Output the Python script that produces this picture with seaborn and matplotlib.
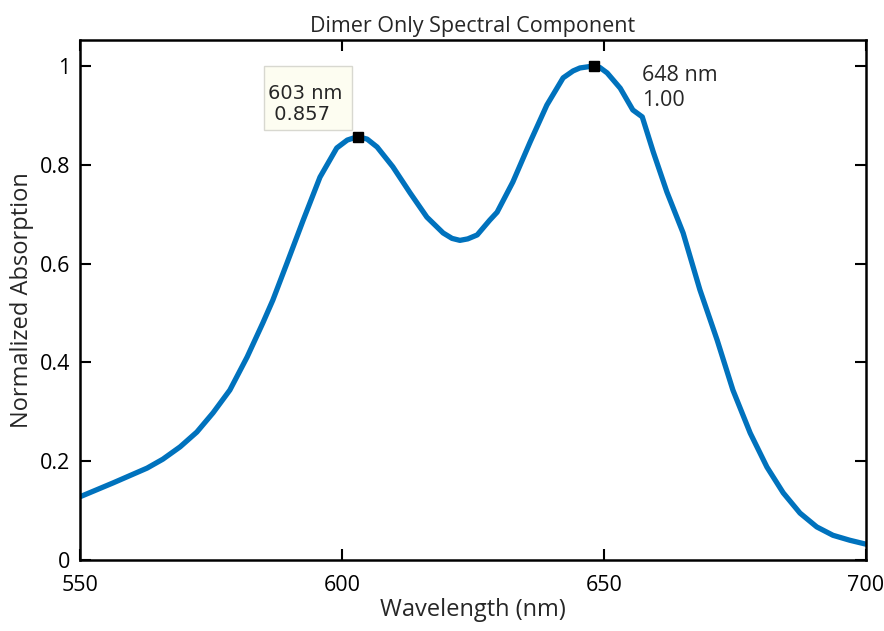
import matplotlib
matplotlib.use("Agg")
import matplotlib.pyplot as plt
import matplotlib.patches as mpatches
import seaborn as sns
import pandas as pd

wavelength = [550.0, 556.3, 562.8, 565.8, 569.1, 572.3, 575.4, 578.6, 581.9, 584.9,
              586.8, 589.5, 592.6, 595.8, 599.0, 601.0, 603.0, 604.8, 606.7, 609.7,
              613.0, 616.2, 619.3, 621.0, 622.5, 624.0, 625.8, 628.2, 629.6, 632.6,
              635.9, 639.1, 642.2, 644.1, 645.4, 648.0, 649.2, 650.6, 653.1, 655.5,
              657.3, 659.4, 662.0, 665.1, 668.3, 671.6, 674.6, 677.9, 681.1, 684.2,
              687.4, 690.6, 693.7, 696.9, 700.0]
absorption = [0.128, 0.156, 0.186, 0.204, 0.229, 0.259, 0.298, 0.344, 0.411, 0.480,
              0.526, 0.601, 0.688, 0.775, 0.834, 0.850, 0.857, 0.852, 0.836, 0.796,
              0.743, 0.694, 0.662, 0.651, 0.647, 0.650, 0.658, 0.688, 0.704, 0.765,
              0.846, 0.921, 0.976, 0.990, 0.996, 1.000, 0.997, 0.986, 0.955, 0.911,
              0.897, 0.826, 0.745, 0.662, 0.547, 0.445, 0.344, 0.257, 0.188, 0.136,
              0.095, 0.067, 0.050, 0.040, 0.032]
peak_wl = [603, 648]
peak_val = [0.857, 1.00]
xticks = [550, 600, 650, 700]
yticks = [0, 0.2, 0.4, 0.6, 0.8, 1.0]
ytick_labels = ["0", "0.2", "0.4", "0.6", "0.8", "1"]

sns.set_style("ticks")
plt.rcParams['font.family'] = ['Open Sans', 'DejaVu Sans']

df = pd.DataFrame({"Wavelength": wavelength, "Absorption": absorption})

fig = plt.figure(figsize=(8.84, 6.31), dpi=100)
ax = fig.add_axes([80/884, 71/631, 786/884, 520/631])

sns.lineplot(data=df, x="Wavelength", y="Absorption", ax=ax, color="#0072BD",
             linewidth=3.8, sort=True, solid_joinstyle="round", solid_capstyle="round")
ax.plot(peak_wl, peak_val, linestyle="none", marker="s", markersize=7.5,
        color="black", zorder=5)

ax.set_xlim(550, 700)
ax.set_ylim(0, 1.0526)
ax.set_xticks(xticks)
ax.set_yticks(yticks)
ax.set_yticklabels(ytick_labels)
ax.tick_params(direction="in", length=8, width=1.5, top=True, right=True,
               labelsize=15.5, colors="black")
ax.tick_params(axis="x", pad=11)
ax.tick_params(axis="y", pad=7)
for s in ax.spines.values():
    s.set_visible(True)
    s.set_linewidth(1.8)
    s.set_color("black")

ax.set_xlabel("Wavelength (nm)", fontsize=17, labelpad=1)
ax.set_ylabel("Normalized Absorption", fontsize=17, labelpad=4)
ax.set_title("Dimer Only Spectral Component", fontsize=15.5, pad=6)

# annotation box for first peak
box = mpatches.Rectangle((585.1, 0.870), 16.8, 0.130, transform=ax.transData,
                         facecolor="#fdfdf1", edgecolor="#d8d8d0", linewidth=1,
                         zorder=4)
ax.add_patch(box)
ax.text(585.9, 0.923, "603 nm\n 0.857", fontsize=14, family="DejaVu Sans",
        ha="left", va="center", linespacing=1.1, zorder=6)
ax.text(657.3, 0.9555, "648 nm\n1.00", fontsize=15.5, ha="left", va="center",
        linespacing=1.2)

fig.savefig("out.png", dpi=100)
